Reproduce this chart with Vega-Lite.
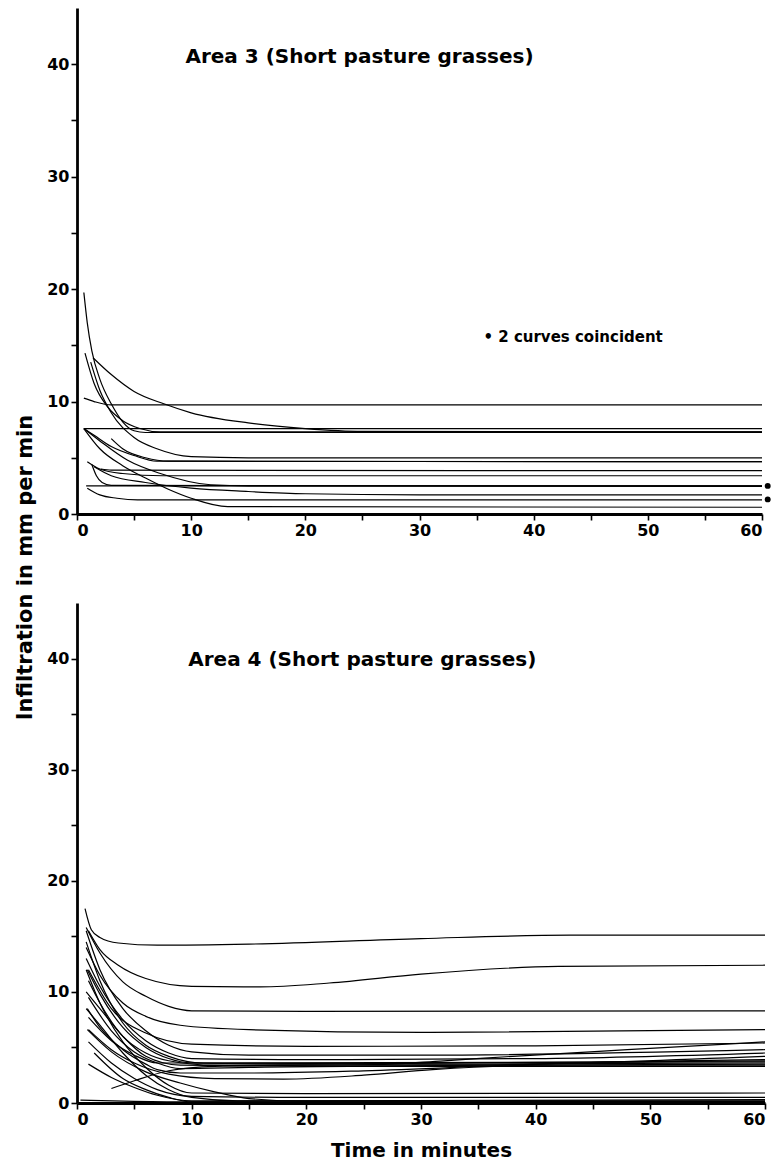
{
 "$schema": "https://vega.github.io/schema/vega-lite/v6.json",
 "background": "white",
 "padding": {"left": 14, "top": 8, "right": 5, "bottom": 5},
 "bounds": "flush",
 "spacing": 89,
 "config": {
  "view": {"stroke": null},
  "font": "DejaVu Sans",
  "axis": {"domainColor": "black", "domainWidth": 2.8, "tickColor": "black", "tickWidth": 1.6, "tickSize": 6, "labelColor": "black", "labelFont": "DejaVu Sans", "labelFontWeight": "bold", "labelFontSize": 16, "titleColor": "black", "titleFont": "DejaVu Sans", "titleFontWeight": "bold", "titleFontSize": 21, "grid": false}
 },
 "resolve": {"scale": {"x": "independent", "y": "independent"}},
 "datasets": {
  "a3": [
   {"c":"T1","t":0.6,"y":19.7},{"c":"T1","t":0.9,"y":17},{"c":"T1","t":1.3,"y":14.5},{"c":"T1","t":2,"y":12},{"c":"T1","t":3,"y":9.8},{"c":"T1","t":4,"y":8.2},{"c":"T1","t":5,"y":7.4},{"c":"T1","t":6,"y":7.25},{"c":"T1","t":60,"y":7.25},
   {"c":"T2","t":1.4,"y":13.9},{"c":"T2","t":3,"y":12.4},{"c":"T2","t":5,"y":10.9},{"c":"T2","t":7.6,"y":9.8},{"c":"T2","t":10,"y":9.0},{"c":"T2","t":15,"y":8.1},{"c":"T2","t":20,"y":7.6},{"c":"T2","t":25,"y":7.35},{"c":"T2","t":60,"y":7.3},
   {"c":"T3","t":0.7,"y":14.3},{"c":"T3","t":1.5,"y":11.6},{"c":"T3","t":2.7,"y":9.5},{"c":"T3","t":4,"y":8.3},{"c":"T3","t":5.5,"y":7.6},{"c":"T3","t":7.3,"y":7.3},{"c":"T3","t":60,"y":7.3},
   {"c":"T4","t":0.6,"y":10.3},{"c":"T4","t":1.5,"y":10},{"c":"T4","t":3,"y":9.7},{"c":"T4","t":60,"y":9.7},
   {"c":"T5","t":0.6,"y":7.6},{"c":"T5","t":60,"y":7.6},
   {"c":"T6","t":1.2,"y":13.5},{"c":"T6","t":2,"y":11},{"c":"T6","t":3,"y":9},{"c":"T6","t":5,"y":6.8},{"c":"T6","t":7,"y":5.8},{"c":"T6","t":10,"y":5.1},{"c":"T6","t":15,"y":5.0},{"c":"T6","t":60,"y":5.0},
   {"c":"T7","t":0.6,"y":7.6},{"c":"T7","t":1.5,"y":7},{"c":"T7","t":3,"y":6},{"c":"T7","t":5,"y":5.2},{"c":"T7","t":7,"y":4.7},{"c":"T7","t":60,"y":4.65},
   {"c":"T8","t":2.1,"y":4.0},{"c":"T8","t":3,"y":3.9},{"c":"T8","t":60,"y":3.85},
   {"c":"T9","t":3,"y":6.7},{"c":"T9","t":4,"y":5.8},{"c":"T9","t":6,"y":5.0},{"c":"T9","t":8,"y":4.7},{"c":"T9","t":60,"y":4.65},
   {"c":"T10","t":0.9,"y":4.65},{"c":"T10","t":2,"y":4.0},{"c":"T10","t":4,"y":3.6},{"c":"T10","t":7.5,"y":3.4},{"c":"T10","t":60,"y":3.4},
   {"c":"T11","t":0.6,"y":7.6},{"c":"T11","t":2,"y":6.5},{"c":"T11","t":4.4,"y":4.8},{"c":"T11","t":7.3,"y":3.6},{"c":"T11","t":11.7,"y":2.6},{"c":"T11","t":15,"y":2.5},{"c":"T11","t":60,"y":2.5},
   {"c":"T12","t":0.8,"y":2.5},{"c":"T12","t":60,"y":2.5},
   {"c":"T13","t":0.9,"y":2.3},{"c":"T13","t":2,"y":1.7},{"c":"T13","t":3.5,"y":1.4},{"c":"T13","t":5.3,"y":1.25},{"c":"T13","t":60,"y":1.25},
   {"c":"T14","t":0.6,"y":7.6},{"c":"T14","t":2,"y":5.8},{"c":"T14","t":4,"y":4.3},{"c":"T14","t":6,"y":3.2},{"c":"T14","t":8,"y":2.2},{"c":"T14","t":10,"y":1.4},{"c":"T14","t":13.2,"y":0.65},{"c":"T14","t":60,"y":0.6},
   {"c":"T15","t":1.5,"y":4.2},{"c":"T15","t":3,"y":3.4},{"c":"T15","t":6,"y":2.8},{"c":"T15","t":10,"y":2.3},{"c":"T15","t":15,"y":2.0},{"c":"T15","t":20,"y":1.8},{"c":"T15","t":30,"y":1.7},{"c":"T15","t":60,"y":1.7},
   {"c":"T16","t":1.3,"y":4.4},{"c":"T16","t":1.7,"y":3.4},{"c":"T16","t":2.2,"y":2.8},{"c":"T16","t":3,"y":2.55},{"c":"T16","t":60,"y":2.45}
  ],
  "a4": [
   {"c":"C1","t":0.7,"y":17.5},{"c":"C1","t":1.25,"y":15.6},{"c":"C1","t":2,"y":14.9},{"c":"C1","t":3.6,"y":14.4},{"c":"C1","t":7,"y":14.2},{"c":"C1","t":15,"y":14.3},{"c":"C1","t":30,"y":14.8},{"c":"C1","t":43,"y":15.1},{"c":"C1","t":60,"y":15.1},
   {"c":"C2","t":1,"y":15.5},{"c":"C2","t":2,"y":13.8},{"c":"C2","t":3.6,"y":12.4},{"c":"C2","t":6,"y":11.2},{"c":"C2","t":10,"y":10.5},{"c":"C2","t":16,"y":10.45},{"c":"C2","t":22,"y":10.8},{"c":"C2","t":30,"y":11.6},{"c":"C2","t":42,"y":12.3},{"c":"C2","t":60,"y":12.4},
   {"c":"C3","t":0.8,"y":15.8},{"c":"C3","t":2,"y":13.5},{"c":"C3","t":4,"y":10.9},{"c":"C3","t":6,"y":9.6},{"c":"C3","t":8,"y":8.7},{"c":"C3","t":10,"y":8.3},{"c":"C3","t":20,"y":8.25},{"c":"C3","t":60,"y":8.3},
   {"c":"C4","t":0.8,"y":14},{"c":"C4","t":2,"y":11.5},{"c":"C4","t":4,"y":9},{"c":"C4","t":6,"y":7.8},{"c":"C4","t":9,"y":7.0},{"c":"C4","t":15,"y":6.6},{"c":"C4","t":30,"y":6.35},{"c":"C4","t":60,"y":6.6},
   {"c":"C5","t":1,"y":12},{"c":"C5","t":3,"y":8.5},{"c":"C5","t":6,"y":6.3},{"c":"C5","t":10,"y":5.3},{"c":"C5","t":20,"y":5.1},{"c":"C5","t":40,"y":5.15},{"c":"C5","t":60,"y":5.4},
   {"c":"B1","t":0.8,"y":15.5},{"c":"B1","t":2,"y":12},{"c":"B1","t":4,"y":8.5},{"c":"B1","t":6,"y":6.5},{"c":"B1","t":8,"y":5.2},{"c":"B1","t":10,"y":4.6},{"c":"B1","t":15,"y":4.3},{"c":"B1","t":30,"y":4.3},{"c":"B1","t":60,"y":4.8},
   {"c":"B2","t":0.8,"y":13},{"c":"B2","t":2,"y":10.5},{"c":"B2","t":4,"y":7.5},{"c":"B2","t":6,"y":5.6},{"c":"B2","t":8,"y":4.5},{"c":"B2","t":10,"y":4.0},{"c":"B2","t":20,"y":3.9},{"c":"B2","t":40,"y":4.0},{"c":"B2","t":60,"y":4.5},
   {"c":"B3","t":0.9,"y":12},{"c":"B3","t":2,"y":9.8},{"c":"B3","t":4,"y":6.8},{"c":"B3","t":6,"y":5.0},{"c":"B3","t":8,"y":4.0},{"c":"B3","t":10,"y":3.6},{"c":"B3","t":20,"y":3.5},{"c":"B3","t":60,"y":3.8},
   {"c":"B4","t":0.8,"y":14.5},{"c":"B4","t":2,"y":11},{"c":"B4","t":4,"y":7.2},{"c":"B4","t":6,"y":5.2},{"c":"B4","t":8,"y":4.2},{"c":"B4","t":11,"y":3.6},{"c":"B4","t":30,"y":3.5},{"c":"B4","t":60,"y":3.6},
   {"c":"B5","t":1,"y":11},{"c":"B5","t":2,"y":9},{"c":"B5","t":4,"y":6},{"c":"B5","t":6,"y":4.5},{"c":"B5","t":8,"y":3.8},{"c":"B5","t":12,"y":3.4},{"c":"B5","t":60,"y":3.4},
   {"c":"B6","t":0.8,"y":10},{"c":"B6","t":2,"y":8.5},{"c":"B6","t":4,"y":6},{"c":"B6","t":6,"y":4.2},{"c":"B6","t":9,"y":3.4},{"c":"B6","t":20,"y":3.3},{"c":"B6","t":60,"y":3.3},
   {"c":"B7","t":1,"y":9.5},{"c":"B7","t":3,"y":6.5},{"c":"B7","t":5,"y":4.6},{"c":"B7","t":7,"y":3.6},{"c":"B7","t":9,"y":3.1},{"c":"B7","t":15,"y":3.2},{"c":"B7","t":40,"y":3.5},{"c":"B7","t":60,"y":4.2},
   {"c":"B8","t":0.9,"y":8.5},{"c":"B8","t":2,"y":6.8},{"c":"B8","t":4,"y":4.8},{"c":"B8","t":6,"y":3.5},{"c":"B8","t":7,"y":3.0},{"c":"B8","t":9,"y":2.7},{"c":"B8","t":15,"y":2.7},{"c":"B8","t":25,"y":2.9},{"c":"B8","t":40,"y":3.5},{"c":"B8","t":60,"y":3.9},
   {"c":"B9","t":1,"y":7.7},{"c":"B9","t":3,"y":5.6},{"c":"B9","t":5,"y":4.3},{"c":"B9","t":7,"y":3.6},{"c":"B9","t":10,"y":3.6},{"c":"B9","t":60,"y":3.7},
   {"c":"R1","t":3,"y":1.3},{"c":"R1","t":5,"y":2.0},{"c":"R1","t":8,"y":2.9},{"c":"R1","t":12,"y":3.3},{"c":"R1","t":20,"y":3.4},{"c":"R1","t":26,"y":3.45},{"c":"R1","t":32,"y":3.8},{"c":"R1","t":38,"y":4.2},{"c":"R1","t":48,"y":4.8},{"c":"R1","t":60,"y":5.5},
   {"c":"R2","t":1,"y":6.6},{"c":"R2","t":3,"y":4.8},{"c":"R2","t":5,"y":3.6},{"c":"R2","t":8,"y":2.6},{"c":"R2","t":12,"y":2.2},{"c":"R2","t":18,"y":2.15},{"c":"R2","t":25,"y":2.5},{"c":"R2","t":31,"y":3.0},{"c":"R2","t":40,"y":3.4},{"c":"R2","t":60,"y":3.5},
   {"c":"L1","t":0.8,"y":12},{"c":"L1","t":2,"y":9},{"c":"L1","t":4,"y":5.5},{"c":"L1","t":6,"y":3.2},{"c":"L1","t":8,"y":1.6},{"c":"L1","t":10,"y":0.9},{"c":"L1","t":20,"y":0.85},{"c":"L1","t":60,"y":0.9},
   {"c":"L2","t":1,"y":5.5},{"c":"L2","t":3,"y":3.6},{"c":"L2","t":5,"y":2.2},{"c":"L2","t":7,"y":1.2},{"c":"L2","t":10,"y":0.6},{"c":"L2","t":20,"y":0.5},{"c":"L2","t":60,"y":0.5},
   {"c":"L3","t":1,"y":3.5},{"c":"L3","t":3,"y":2.3},{"c":"L3","t":5,"y":1.4},{"c":"L3","t":7,"y":0.7},{"c":"L3","t":10,"y":0.2},{"c":"L3","t":60,"y":0.2},
   {"c":"L4","t":0.9,"y":6.6},{"c":"L4","t":3,"y":4.6},{"c":"L4","t":6,"y":2.8},{"c":"L4","t":9,"y":1.8},{"c":"L4","t":12,"y":1.0},{"c":"L4","t":15,"y":0.4},{"c":"L4","t":20,"y":0.15},{"c":"L4","t":60,"y":0.15},
   {"c":"L5","t":1.5,"y":4.5},{"c":"L5","t":4,"y":2.2},{"c":"L5","t":6,"y":1.2},{"c":"L5","t":8,"y":0.5},{"c":"L5","t":10,"y":0.1},{"c":"L5","t":60,"y":0.05},
   {"c":"L6","t":0.8,"y":8.5},{"c":"L6","t":2,"y":7},{"c":"L6","t":4,"y":4.5},{"c":"L6","t":6,"y":2.5},{"c":"L6","t":8,"y":1.2},{"c":"L6","t":10,"y":0.5},{"c":"L6","t":14,"y":0.2},{"c":"L6","t":60,"y":0.3},
   {"c":"L7","t":0.3,"y":0.25},{"c":"L7","t":5,"y":0.15},{"c":"L7","t":10,"y":0.1},{"c":"L7","t":60,"y":0.1}
  ],
  "title3": [{"t": 9.5, "y": 40.6, "label": "Area 3 (Short pasture grasses)"}],
  "note3": [{"t": 35.6, "y": 15.7, "label": "• 2 curves coincident"}],
  "dots3": [{"t": 60.5, "y": 2.5}, {"t": 60.5, "y": 1.3}],
  "title4": [{"t": 9.7, "y": 39.9, "label": "Area 4 (Short pasture grasses)"}]
 },
 "vconcat": [
  {
   "width": 685,
   "height": 506,
   "layer": [
    {
     "data": {"name": "a3"},
     "mark": {"type": "line", "color": "black", "strokeWidth": 1.2, "interpolate": "monotone"},
     "encoding": {
      "x": {"field": "t", "type": "quantitative", "scale": {"domain": [0, 60], "nice": false},
            "axis": {"title": null, "values": [0,5,10,15,20,25,30,35,40,45,50,55,60], "labelExpr": "datum.value % 10 === 0 ? datum.label : ''", "labelPadding": 2}},
      "y": {"field": "y", "type": "quantitative", "scale": {"domain": [0, 45], "nice": false},
            "axis": {"title": "Infiltration in mm per min", "values": [0,5,10,15,20,25,30,35,40], "labelExpr": "datum.value % 10 === 0 ? datum.label : ''", "labelPadding": 2, "titleX": -52, "titleY": 559, "titleAngle": -90, "titleAlign": "center", "titleBaseline": "middle"}},
      "detail": {"field": "c"}
     }
    },
    {
     "data": {"name": "title3"},
     "mark": {"type": "text", "align": "left", "baseline": "middle", "fontWeight": "bold", "fontSize": 20, "color": "black"},
     "encoding": {"x": {"field": "t", "type": "quantitative"}, "y": {"field": "y", "type": "quantitative"}, "text": {"field": "label"}}
    },
    {
     "data": {"name": "note3"},
     "mark": {"type": "text", "align": "left", "baseline": "middle", "fontWeight": "bold", "fontSize": 15, "color": "black"},
     "encoding": {"x": {"field": "t", "type": "quantitative"}, "y": {"field": "y", "type": "quantitative"}, "text": {"field": "label"}}
    },
    {
     "data": {"name": "dots3"},
     "mark": {"type": "point", "filled": true, "color": "black", "size": 35, "opacity": 1},
     "encoding": {"x": {"field": "t", "type": "quantitative"}, "y": {"field": "y", "type": "quantitative"}}
    }
   ]
  },
  {
   "width": 688,
   "height": 500,
   "layer": [
    {
     "data": {"name": "a4"},
     "mark": {"type": "line", "color": "black", "strokeWidth": 1.2, "interpolate": "monotone"},
     "encoding": {
      "x": {"field": "t", "type": "quantitative", "scale": {"domain": [0, 60], "nice": false},
            "axis": {"title": "Time in minutes", "titleFontSize": 20, "titlePadding": 13, "values": [0,5,10,15,20,25,30,35,40,45,50,55,60], "labelExpr": "datum.value % 10 === 0 ? datum.label : ''", "labelPadding": 2}},
      "y": {"field": "y", "type": "quantitative", "scale": {"domain": [0, 45], "nice": false},
            "axis": {"title": null, "values": [0,5,10,15,20,25,30,35,40], "labelExpr": "datum.value % 10 === 0 ? datum.label : ''", "labelPadding": 2}},
      "detail": {"field": "c"}
     }
    },
    {
     "data": {"name": "title4"},
     "mark": {"type": "text", "align": "left", "baseline": "middle", "fontWeight": "bold", "fontSize": 20, "color": "black"},
     "encoding": {"x": {"field": "t", "type": "quantitative"}, "y": {"field": "y", "type": "quantitative"}, "text": {"field": "label"}}
    }
   ]
  }
 ]
}
